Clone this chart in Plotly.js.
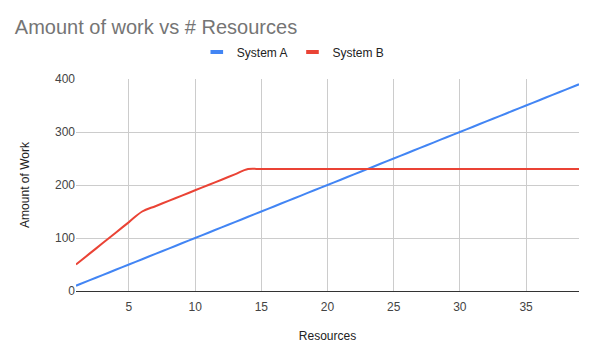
<!DOCTYPE html>
<html>
<head>
<meta charset="utf-8">
<script src="https://cdn.plot.ly/plotly-3.0.1.min.js"></script>
<style>html,body{margin:0;padding:0;background:#fff;}#chart{width:592px;height:356px;}</style>
</head>
<body>
<div id="chart"></div>
<script>
const resources = [1,2,3,4,5,6,7,8,9,10,11,12,13,14,15,16,17,18,19,20,21,22,23,24,25,26,27,28,29,30,31,32,33,34,35,36,37,38,39];
const systemA = [10,20,30,40,50,60,70,80,90,100,110,120,130,140,150,160,170,180,190,200,210,220,230,240,250,260,270,280,290,300,310,320,330,340,350,360,370,380,390];
const systemB = [50,70,90,110,130,150,160,170,180,190,200,210,220,230,230,230,230,230,230,230,230,230,230,230,230,230,230,230,230,230,230,230,230,230,230,230,230,230,230];
const seriesNames = ['System A', 'System B'];
const seriesColors = ['#4285F4', '#EA4335'];
const xTicks = [5,10,15,20,25,30,35];
const yTicks = [0,100,200,300,400];

const FONT = 'Arial, "Liberation Sans", sans-serif';

const traces = [
  {x: resources, y: systemA, name: seriesNames[0], type: 'scatter', mode: 'lines', showlegend: false,
   line: {color: seriesColors[0], width: 2, shape: 'spline', smoothing: 1}},
  {x: resources, y: systemB, name: seriesNames[1], type: 'scatter', mode: 'lines', showlegend: false,
   line: {color: seriesColors[1], width: 2, shape: 'spline', smoothing: 1}}
];
// legend swatches (short thick bars like the reference)
seriesNames.forEach((n, i) => {
  traces.push({x: [null], y: [null], name: n, type: 'scatter', mode: 'markers', showlegend: true,
    marker: {symbol: 'line-ew', size: 9, color: seriesColors[i], line: {color: seriesColors[i], width: 4}}});
});

const layout = {
  width: 592, height: 356,
  margin: {l: 76, r: 13, t: 79, b: 65},
  paper_bgcolor: '#fff', plot_bgcolor: '#fff',
  font: {family: FONT, color: '#222', size: 11},
  title: {text: 'Amount of work vs # Resources', x: 0.025, xanchor: 'left', yref: 'container', y: 0.925, yanchor: 'middle',
          font: {family: FONT, size: 20, color: '#757575'}},
  showlegend: true,
  legend: {orientation: 'h', x: 0.432, xanchor: 'center', y: 1.127, yanchor: 'middle',
           font: {family: FONT, size: 12, color: '#222'}, itemwidth: 30, tracegroupgap: 0, itemsizing: 'trace'},
  xaxis: {range: [1, 39], tickvals: xTicks, ticktext: xTicks.map(String),
          showgrid: true, gridcolor: '#cccccc', zeroline: false, showline: false,
          ticks: 'outside', ticklen: 5, tickcolor: 'rgba(0,0,0,0)', tickfont: {size: 12, color: '#444'},
          title: {text: 'Resources', font: {size: 12, color: '#222'}, standoff: 18}},
  yaxis: {range: [0, 400], tickvals: yTicks, ticktext: yTicks.map(String),
          showgrid: true, gridcolor: '#cccccc', zeroline: true, zerolinecolor: '#333', zerolinewidth: 1,
          showline: false, ticks: '', tickfont: {size: 12, color: '#444'},
          title: {text: 'Amount of Work', font: {size: 12, color: '#222'}, standoff: 22}}
};

Plotly.newPlot('chart', traces, layout, {displayModeBar: false, staticPlot: true});
</script>
</body>
</html>
